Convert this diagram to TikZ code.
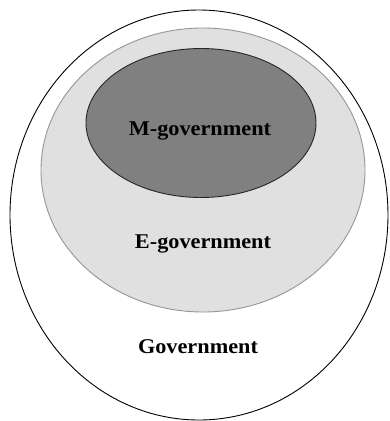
\documentclass[tikz,border=0pt]{standalone}
\usepackage{fontspec}
\setmainfont{Liberation Serif}
\usetikzlibrary{shapes.geometric}
\definecolor{inner}{RGB}{128,128,128}
\definecolor{middle}{RGB}{224,224,224}
\definecolor{midline}{RGB}{150,150,150}
\begin{document}
\begin{tikzpicture}[x=1pt,y=-1pt,
  region/.style={ellipse, inner sep=0pt, line width=0.9pt},
  lbl/.style={font=\fontsize{21}{24}\selectfont\bfseries, text=black}]
\useasboundingbox (0,0) rectangle (390,421);
\node[region, draw=black, fill=white, minimum width=378pt, minimum height=410pt] (gov) at (199,215) {};
\node[region, draw=midline, fill=middle, minimum width=324pt, minimum height=284pt] (egov) at (203,170) {};
\node[region, draw=black!85, fill=inner, minimum width=230pt, minimum height=149pt] (mgov) at (201,123) {};
\node[lbl, xscale=1.06] (mlbl) at (200,131) {M-government};
\node[lbl, xscale=1.06] (elbl) at (203,244) {E-government};
\node[lbl, xscale=1.06] (glbl) at (198,347) {Government};
\end{tikzpicture}
\end{document}
